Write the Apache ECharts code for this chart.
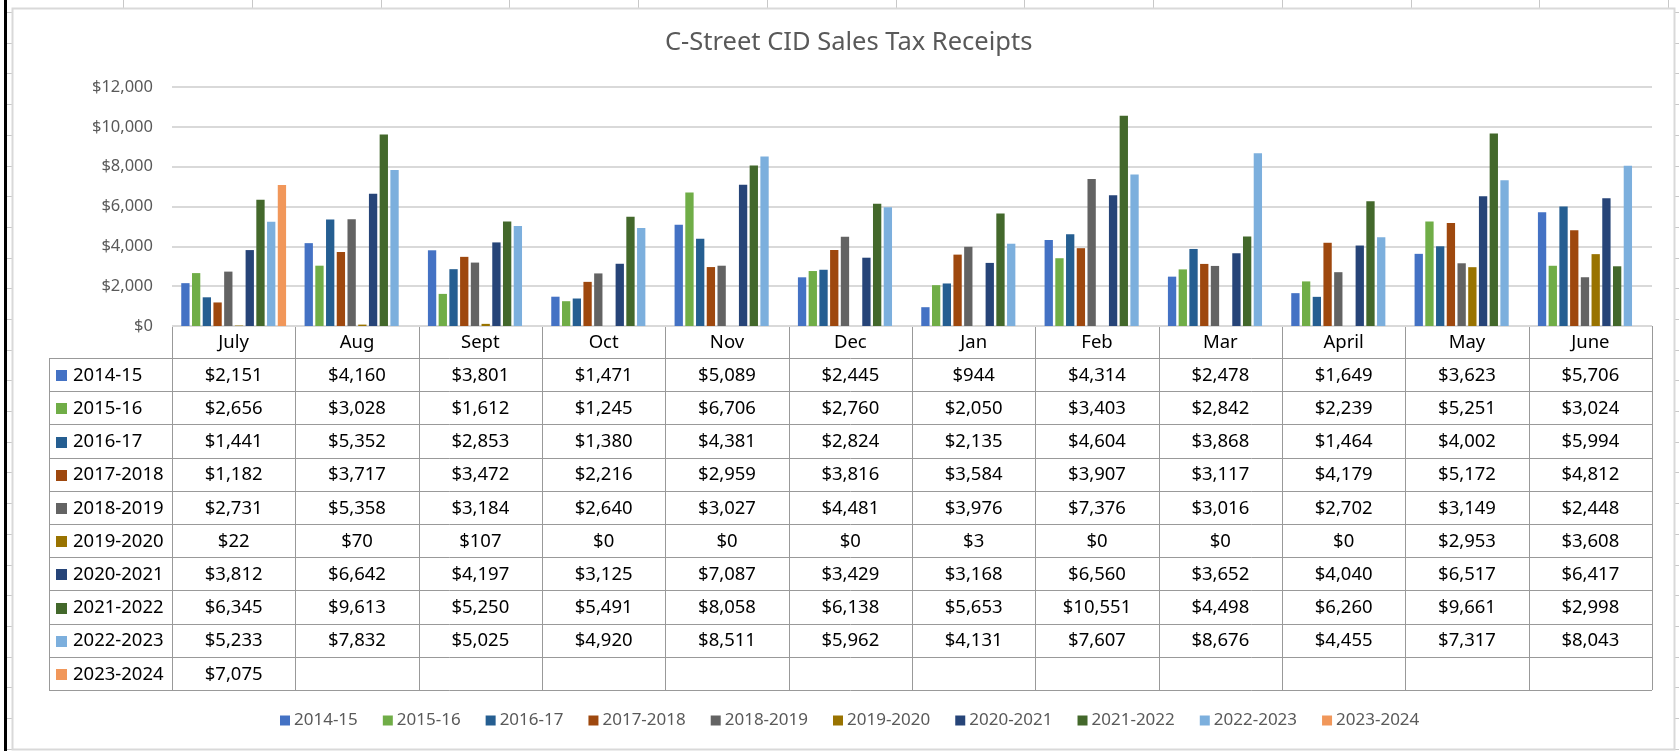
<!DOCTYPE html>
<html>
<head>
<meta charset="utf-8">
<title>C-Street CID Sales Tax Receipts</title>
<script src="https://cdn.jsdelivr.net/npm/echarts@6/dist/echarts.min.js"></script>
<style>
  html, body { margin: 0; padding: 0; background: #fff; }
  #chart { width: 1679px; height: 751px; }
</style>
</head>
<body>
<div id="chart"></div>
<script>
  // months (x axis / table header)
  const months = ['July', 'Aug', 'Sept', 'Oct', 'Nov', 'Dec', 'Jan', 'Feb', 'Mar', 'April', 'May', 'June'];

  // fiscal years
  const years = ['2014-15', '2015-16', '2016-17', '2017-2018', '2018-2019',
    '2019-2020', '2020-2021', '2021-2022', '2022-2023', '2023-2024'];

  const fy2014 = [2151, 4160, 3801, 1471, 5089, 2445, 944, 4314, 2478, 1649, 3623, 5706];
  const fy2015 = [2656, 3028, 1612, 1245, 6706, 2760, 2050, 3403, 2842, 2239, 5251, 3024];
  const fy2016 = [1441, 5352, 2853, 1380, 4381, 2824, 2135, 4604, 3868, 1464, 4002, 5994];
  const fy2017 = [1182, 3717, 3472, 2216, 2959, 3816, 3584, 3907, 3117, 4179, 5172, 4812];
  const fy2018 = [2731, 5358, 3184, 2640, 3027, 4481, 3976, 7376, 3016, 2702, 3149, 2448];
  const fy2019 = [22, 70, 107, 0, 0, 0, 3, 0, 0, 0, 2953, 3608];
  const fy2020 = [3812, 6642, 4197, 3125, 7087, 3429, 3168, 6560, 3652, 4040, 6517, 6417];
  const fy2021 = [6345, 9613, 5250, 5491, 8058, 6138, 5653, 10551, 4498, 6260, 9661, 2998];
  const fy2022 = [5233, 7832, 5025, 4920, 8511, 5962, 4131, 7607, 8676, 4455, 7317, 8043];
  const fy2023 = [7075, null, null, null, null, null, null, null, null, null, null, null];

  const yTicks = [0, 2000, 4000, 6000, 8000, 10000, 12000];

  const allData = [fy2014, fy2015, fy2016, fy2017, fy2018, fy2019, fy2020, fy2021, fy2022, fy2023];
  const colors = ['#4472C4', '#70AD47', '#255E91', '#9E480E', '#636363',
    '#997300', '#264478', '#43682B', '#7CAFDD', '#F1975A'];

  const FONT = '"Noto Sans", "Liberation Sans", sans-serif';

  // layout of the plot area / data table
  const W = 1679, H = 751;
  const plotLeft = 172, plotRight = 1652, plotTop = 87, plotBottom = 326;
  const tableLeft = 49;
  const headerH = 32;
  const rowH = 33.2;
  const colW = (plotRight - plotLeft) / months.length;
  const tableFont = 18.5;

  function money(v) {
    if (v === null || v === undefined) return '';
    return '$' + v.toLocaleString('en-US');
  }

  const graphics = [];

  // spreadsheet behind the chart
  for (let x = 123; x < W; x += 128.75) {
    graphics.push({ type: 'line', z: -20, silent: true,
      shape: { x1: Math.round(x) + 0.5, y1: 0, x2: Math.round(x) + 0.5, y2: 8 },
      style: { stroke: '#c8c8c8', lineWidth: 1 } });
  }
  for (let y = 12; y < H; y += 30.7) {
    graphics.push({ type: 'line', z: -20, silent: true,
      shape: { x1: 7, y1: Math.round(y) + 0.5, x2: 12, y2: Math.round(y) + 0.5 },
      style: { stroke: '#c8c8c8', lineWidth: 1 } });
    graphics.push({ type: 'line', z: -20, silent: true,
      shape: { x1: 1675, y1: Math.round(y) + 0.5, x2: W, y2: Math.round(y) + 0.5 },
      style: { stroke: '#c8c8c8', lineWidth: 1 } });
  }
  graphics.push({ type: 'rect', z: -20, silent: true,
    shape: { x: 4, y: 0, width: 3, height: H }, style: { fill: '#000' } });
  // chart area
  graphics.push({ type: 'rect', z: -10, silent: true,
    shape: { x: 12.5, y: 8.5, width: 1662, height: 741 },
    style: { fill: '#fff', stroke: '#d9d9d9', lineWidth: 2 } });

  // data table
  const lineStyle = { stroke: '#999', lineWidth: 1 };
  const tableBottom = plotBottom + headerH + rowH * years.length;
  graphics.push({ type: 'line', silent: true,
    shape: { x1: plotLeft, y1: plotBottom + 0.5, x2: plotRight, y2: plotBottom + 0.5 }, style: lineStyle });
  for (let i = 0; i <= years.length; i++) {
    const y = Math.round(plotBottom + headerH + rowH * i) + 0.5;
    graphics.push({ type: 'line', silent: true,
      shape: { x1: tableLeft, y1: y, x2: plotRight, y2: y }, style: lineStyle });
  }
  for (let c = 0; c <= months.length; c++) {
    const x = Math.round(plotLeft + colW * c) + 0.5;
    graphics.push({ type: 'line', silent: true,
      shape: { x1: x, y1: plotBottom, x2: x, y2: tableBottom }, style: lineStyle });
  }
  graphics.push({ type: 'line', silent: true,
    shape: { x1: tableLeft + 0.5, y1: plotBottom + headerH, x2: tableLeft + 0.5, y2: tableBottom }, style: lineStyle });

  months.forEach(function (m, c) {
    graphics.push({ type: 'text', silent: true,
      style: { text: m, x: plotLeft + colW * (c + 0.5), y: plotBottom + headerH / 2 + 1,
        align: 'center', verticalAlign: 'middle', fill: '#000', fontSize: tableFont, fontFamily: FONT } });
  });
  years.forEach(function (name, r) {
    const cy = plotBottom + headerH + rowH * (r + 0.5) + 1;
    graphics.push({ type: 'rect', silent: true,
      shape: { x: tableLeft + 7, y: Math.round(cy - 5.5), width: 11, height: 11 },
      style: { fill: colors[r] } });
    graphics.push({ type: 'text', silent: true,
      style: { text: name, x: tableLeft + 24, y: cy, align: 'left', verticalAlign: 'middle',
        fill: '#000', fontSize: tableFont, fontFamily: FONT } });
    allData[r].forEach(function (v, c) {
      graphics.push({ type: 'text', silent: true,
        style: { text: money(v), x: plotLeft + colW * (c + 0.5), y: cy,
          align: 'center', verticalAlign: 'middle', fill: '#000', fontSize: tableFont, fontFamily: FONT } });
    });
  });

  const chart = echarts.init(document.getElementById('chart'), null, { renderer: 'canvas' });

  chart.setOption({
    animation: false,
    color: colors,
    title: {
      text: 'C-Street CID Sales Tax Receipts',
      left: 660,
      top: 25,
      textStyle: { color: '#595959', fontSize: 25.5, fontWeight: 'normal', fontFamily: FONT }
    },
    legend: {
      data: years,
      left: 275,
      top: 707,
      icon: 'rect',
      itemWidth: 10,
      itemHeight: 10,
      itemGap: 25,
      textStyle: { color: '#595959', fontSize: 17, fontFamily: FONT, padding: [0, 0, 0, -1] }
    },
    grid: {
      left: plotLeft,
      right: W - plotRight,
      top: plotTop,
      bottom: H - plotBottom,
      containLabel: false
    },
    xAxis: {
      type: 'category',
      data: months,
      axisLine: { show: false },
      axisTick: { show: false },
      axisLabel: { show: false }
    },
    yAxis: {
      type: 'value',
      min: yTicks[0],
      max: yTicks[yTicks.length - 1],
      interval: yTicks[1] - yTicks[0],
      axisLine: { show: false },
      axisTick: { show: false },
      axisLabel: {
        margin: 19,
        color: '#595959',
        fontSize: 16.5,
        fontFamily: FONT,
        formatter: function (v) { return money(v); }
      },
      splitLine: { lineStyle: { color: '#d9d9d9', width: 2 } }
    },
    graphic: graphics,
    series: years.map(function (name, i) {
      return {
        name: name,
        type: 'bar',
        data: allData[i],
        barCategoryGap: '15%',
        barGap: '29%',
        itemStyle: { color: colors[i] }
      };
    })
  });
</script>
</body>
</html>
